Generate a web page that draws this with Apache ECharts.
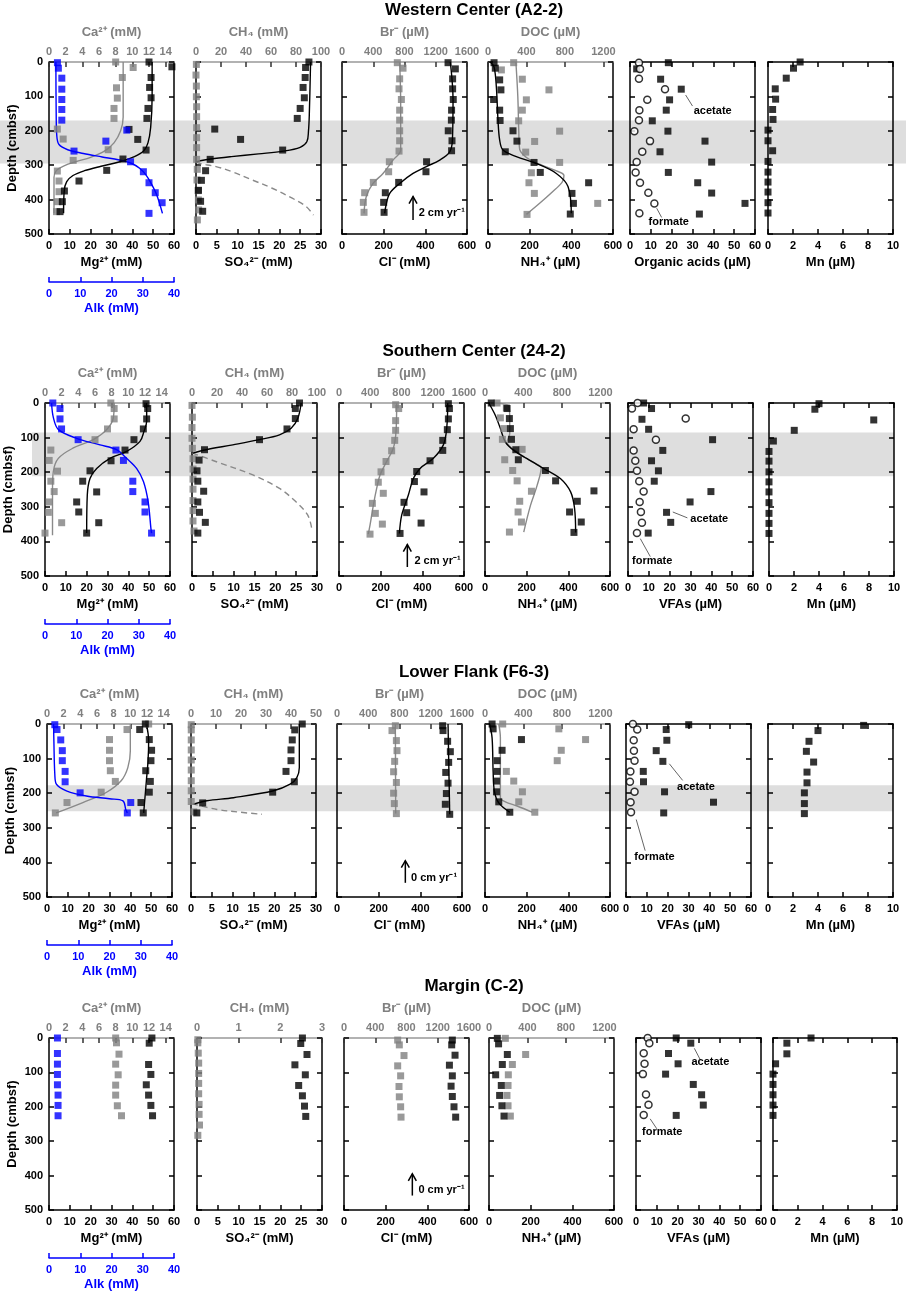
<!DOCTYPE html>
<html>
<head>
<meta charset="utf-8">
<script src="https://cdn.jsdelivr.net/npm/echarts@6/dist/echarts.min.js"></script>
<style>
  html, body { margin: 0; padding: 0; background: #fff; }
  #chart { width: 906px; height: 1293px; }
</style>
</head>
<body>
<div id="chart"></div>
<script>
// every point is [value, depth in cmbsf]

// ---- Western Center (A2-2) ----
var a2Mg = [[48,0],[59,14],[49,45],[48.3,74],[49,104],[47.5,135],[47,164],[38.4,196],[42.6,225],[46.6,256],[35.5,282],[27.7,315],[14.4,346],[7.4,375],[6.4,406],[5.3,435]];
var a2MgFit = [[49.5,0],[49.5,100],[48.8,190],[47.5,235],[45.5,258],[41,275],[34,290],[25,303],[17,316],[11.5,330],[8.5,348],[7.3,375],[7,440]];
var a2Ca = [[8.0,0],[10.1,16],[8.8,45],[8.1,75],[8.2,105],[7.8,135],[7.8,164],[1.0,195],[1.7,224],[7.1,255],[2.9,286],[1.0,317],[1.2,346],[1.2,377],[1.0,406],[0.9,435]];
var a2CaFit = [[8.9,0],[8.9,160],[8.6,200],[7.8,235],[6.6,260],[5.0,277],[3.2,290],[1.8,302],[0.9,315],[0.6,335],[0.6,440]];
var a2Alk = [[2.7,2],[3.0,18],[4.1,47],[4.1,79],[4.1,109],[4.1,138],[4.1,169],[24.9,198],[18.2,230],[8.0,259],[26.1,290],[30.2,319],[32,351],[34,380],[36.2,409],[32,440]];
var a2AlkFit = [[2.2,0],[2.3,150],[2.5,215],[3.2,240],[6,255],[11,266],[17,276],[22.5,285],[26.5,295],[29,309],[31,328],[32.5,350],[34.5,387],[36.3,440]];
var a2SO4 = [[27.1,0],[26.3,16],[26.2,45],[25.7,74],[26,104],[25,135],[24.3,164],[4.5,195],[10.7,225],[20.8,256],[3.4,283],[2.3,316],[1.3,344],[0.6,373],[1.1,405],[1.6,434]];
var a2SO4Fit = [[27.5,0],[27.2,150],[27,200],[26.6,232],[25,248],[21,259],[15,267],[8.5,275],[3.5,282],[1,287],[0,290]];
var a2CH4 = [[0.3,7],[0,38],[0.3,70],[0.3,101],[0.5,130],[0.5,159],[0.5,191],[0.5,220],[0.5,249],[0.5,283],[1,312],[0.8,343],[1.6,374],[1.9,401],[2.1,430],[1.1,459]];
var a2CH4Fit = [[0,290],[3,295],[16,304],[29,319],[45,343],[61,367],[77,396],[88,420],[94,445]];
var a2Cl = [[509,2],[544,20],[531,49],[531,78],[534,109],[526,140],[525,169],[510,200],[528,229],[526,258],[406,290],[403,319],[272,350],[208,380],[200,408],[202,437]];
var a2ClFit = [[520,0],[533,110],[530,227],[517,261],[469,285],[405,304],[341,324],[277,353],[229,382],[210,420],[205,440]];
var a2Br = [[708,2],[781,18],[738,49],[730,78],[760,109],[738,140],[738,169],[738,200],[738,229],[730,259],[606,290],[597,319],[401,350],[290,380],[273,408],[282,437]];
var a2BrFit = [[738,0],[751,120],[751,256],[653,285],[525,324],[397,353],[311,391],[282,440]];
var a2NH4 = [[29,2],[35,18],[56,52],[62,81],[27,109],[56,140],[58,170],[120,200],[139,230],[83,261],[221,292],[251,321],[483,351],[403,382],[410,411],[395,442]];
var a2NH4Fit = [[11,0],[29,14],[40,72],[48,169],[56,227],[72,256],[136,275],[232,295],[328,324],[384,362],[400,440]];
var a2DOC = [[267,2],[139,23],[357,50],[634,81],[399,110],[357,140],[319,171],[745,201],[485,231],[392,262],[745,292],[451,322],[426,351],[482,382],[1141,411],[406,443]];
var a2DOCFit = [[290,0],[310,100],[320,200],[330,255],[370,270],[440,285],[560,300],[700,315],[790,330],[770,350],[660,380],[540,410],[400,443]];
var a2Acetate = [[18.4,2],[3.2,20],[14.7,50],[24.6,79],[19,110],[17.4,140],[10.7,171],[18.2,201],[36,230],[14.4,261],[39.2,291],[18.4,321],[32.5,351],[39.2,381],[55.2,411],[33.3,442]];
var a2Formate = [[4.3,2],[4.8,20],[4.3,49],[16.8,79],[8.3,110],[4.5,140],[4.3,169],[2.1,201],[9.6,230],[5.9,261],[3.2,291],[2.7,321],[4.8,351],[8.8,380],[11.7,411],[4.5,440]];
var a2Mn = [[2.57,0],[2.04,18],[1.46,47],[0.58,78],[0.61,108],[0.37,138],[0.4,167],[0,198],[0,229],[0.37,258],[0,289],[0,320],[0,349],[0,378],[0,409],[0,439]];
var a2Band = [170, 295];

// ---- Southern Center (24-2) ----
var s24Mg = [[48.5,2],[49.3,16],[48.8,46],[47.2,75],[42.7,106],[38.4,136],[31.7,167],[21.6,196],[18.1,226],[24.8,257],[15.2,286],[16.2,315],[25.8,346],[20,376]];
var s24MgFit = [[48.8,0],[48.8,53],[47.5,82],[45.6,111],[39.2,140],[31.2,160],[24.8,189],[21.6,218],[20.3,266],[20,376]];
var s24Ca = [[7.9,0],[8.3,16],[8.3,46],[7.5,75],[6,106],[0.7,136],[0.5,166],[1.5,197],[0.7,226],[1.1,256],[0.5,286],[0.4,316],[2,346],[0,376]];
var s24CaFit = [[8.3,0],[8.2,43],[7.4,77],[5.8,106],[3.4,130],[1.6,160],[1,198],[0.9,247],[0.9,382]];
var s24Alk = [[2.5,0],[4.8,16],[4.8,46],[5.3,75],[10.6,106],[22.7,136],[25.1,166],[28.1,226],[28.1,256],[32,286],[32,315],[34.1,376]];
var s24AlkFit = [[2.1,0],[2.7,43],[4.3,77],[10.1,102],[17.6,121],[22.9,135],[26.1,160],[29.3,189],[31.5,227],[33,285],[33.9,363],[34.1,376]];
var s24SO4 = [[25.8,0],[24.8,16],[24.8,45],[22.8,75],[16.2,106],[3,135],[1.7,165],[1.2,196],[1.4,226],[2.8,255],[1.4,286],[1.8,316],[3.2,345],[1.4,376]];
var s24SO4Fit = [[26.2,0],[25.4,44],[23.8,73],[21,92],[16.2,106],[9.8,121],[3.4,135],[0.2,145]];
var s24CH4 = [[0,7],[0.3,41],[0,71],[0,102],[0.3,131],[0.8,161],[0.8,191],[0.8,220],[0.8,249],[0.8,282],[0.8,311],[0.8,341],[1.6,370]];
var s24CH4Fit = [[0.5,145],[19,169],[48.7,208],[70,247],[83,285],[92.6,324],[96,367]];
var s24Cl = [[525,2],[530,16],[525,46],[520,77],[498,108],[498,137],[437,167],[373,198],[362,227],[408,257],[312,287],[325,317],[394,347],[293,377]];
var s24ClFit = [[522,0],[517,73],[501,121],[453,160],[389,189],[357,218],[333,266],[301,324],[290,377]];
var s24Br = [[725,5],[764,16],[725,51],[725,79],[713,108],[674,138],[602,169],[538,199],[503,229],[567,261],[427,290],[465,319],[555,350],[397,379]];
var s24BrFit = [[738,0],[730,82],[695,131],[610,169],[525,208],[482,247],[440,295],[397,353],[375,379]];
var s24NH4 = [[30,0],[106,16],[117,45],[122,74],[127,105],[148,135],[160,164],[290,195],[339,225],[523,254],[443,284],[406,315],[462,344],[427,374]];
var s24NH4Fit = [[18,0],[50,36],[74,74],[98,113],[138,137],[202,161],[283,190],[363,219],[411,257],[430,305],[435,374]];
var s24DOC = [[125,0],[222,14],[160,43],[195,74],[181,105],[386,134],[205,164],[288,195],[334,225],[483,255],[361,284],[344,315],[379,344],[254,373]];
var s24DOCFit = [[56,0],[247,9],[257,45],[257,89],[229,113],[334,142],[490,170],[584,188],[542,238],[473,296],[403,373]];
var s24Acetate = [[7.5,0],[11.3,16],[6.7,47],[9.9,76],[40.6,106],[16.7,137],[11.3,167],[14.6,196],[12.6,226],[39.8,256],[29.8,286],[18.5,316],[20.5,345],[9.7,376]];
var s24Formate = [[4.6,0],[1.9,16],[27.7,45],[2.7,76],[13.4,106],[2.7,137],[3.5,167],[4.3,196],[5.4,226],[7.5,256],[5.6,286],[6.2,315],[6.7,346],[4.3,376]];
var s24Mn = [[4,2],[3.67,18],[8.38,49],[2.02,79],[0.35,110],[0,140],[0,168],[0,199],[0,228],[0,257],[0,288],[0,319],[0,348],[0,377]];
var s24Band = [85, 212];

// ---- Lower Flank (F6-3) ----
var f6Mg = [[47.2,0],[44.5,16],[49.1,45],[50.2,76],[49.9,106],[47.4,135],[49.6,166],[49.1,197],[45.1,227],[46.2,257]];
var f6MgFit = [[47.7,0],[48.8,48],[48.5,106],[47.7,164],[46.9,222],[46.4,257]];
var f6Ca = [[12.2,0],[9.6,16],[7.5,45],[7.5,76],[7.5,106],[7.6,135],[8.2,166],[6.5,197],[2.4,227],[1.0,257]];
var f6CaFit = [[10,0],[10,77],[9.7,126],[8.9,164],[7.1,198],[4.3,227],[1.1,257]];
var f6Alk = [[2.5,2],[3.2,16],[4.4,46],[4.9,77],[4.9,106],[5.8,137],[5.8,167],[10.6,199],[26.8,227],[25.7,257]];
var f6AlkFit = [[2.1,0],[2.2,48],[2.5,145],[3,174],[6.2,193],[12.6,208],[20,216],[24.3,222],[25.2,247],[25.7,257]];
var f6SO4 = [[26.7,0],[24.9,17],[24.3,46],[24,75],[24,106],[22.8,137],[24.8,167],[19.6,197],[2.8,228],[1.4,257]];
var f6SO4Fit = [[26,0],[26,126],[25.4,155],[23.8,174],[19.8,193],[10.2,213],[3.8,222],[0.6,232]];
var f6CH4 = [[0.1,2],[0.1,17],[0.1,46],[0.1,75],[0.1,104],[0.1,133],[0.1,164],[0.1,193],[0.1,224],[1.1,254]];
var f6CH4Fit = [[0.4,230],[10.4,247],[19.7,255],[28.3,261]];
var f6Cl = [[507,5],[509,19],[531,50],[544,80],[536,111],[522,140],[533,171],[525,201],[520,232],[541,261]];
var f6ClFit = [[533,0],[541,261]];
var f6Br = [[747,5],[704,19],[760,48],[768,77],[738,108],[725,138],[760,169],[725,200],[734,230],[760,259]];
var f6BrFit = [[747,0],[751,259]];
var f6NH4 = [[34,0],[39,14],[175,45],[82,76],[58,106],[58,137],[55,165],[55,196],[66,225],[119,255]];
var f6NH4Fit = [[22,0],[34,40],[39,137],[45,194],[66,228],[119,255]];
var f6DOC = [[184,0],[768,14],[1046,45],[793,76],[751,106],[222,137],[299,165],[389,196],[351,225],[518,255]];
var f6DOCFit = [[143,0],[160,40],[160,213],[212,225],[334,237],[490,255]];
var f6Acetate = [[30.1,2],[19.3,16],[19.6,47],[14.5,77],[17.7,108],[8.3,137],[8.4,167],[18.5,196],[42,226],[18.1,257]];
var f6Formate = [[3.3,0],[5.4,16],[3.7,47],[3.8,77],[4.1,106],[2.1,137],[1.9,167],[4.1,196],[2.2,226],[2.4,255]];
var f6Mn = [[7.65,4],[4.0,19],[3.28,50],[3.07,79],[3.65,110],[3.12,139],[3.12,170],[2.91,199],[2.91,230],[2.91,259]];
var f6Band = [177, 252];

// ---- Margin (C-2) ----
var c2Mg = [[49.4,0],[48.1,15],[47.8,77],[48.9,106],[46.7,136],[47.8,166],[48.9,196],[49.7,226]];
var c2Ca = [[8.0,0],[8.1,14],[8.4,47],[8.0,76],[8.3,107],[8.0,137],[8.0,166],[8.2,197],[8.7,226]];
var c2Alk = [[2.7,0],[2.7,45],[2.7,76],[2.7,106],[2.7,136],[2.9,166],[2.9,196],[2.9,226]];
var c2SO4 = [[25.3,0],[24.9,16],[26.4,48],[23.5,78],[26,107],[24.4,138],[25.3,168],[25.8,198],[26.1,228]];
var c2CH4 = [[0.02,5],[0.02,14],[0.03,44],[0.04,73],[0.04,103],[0.04,132],[0.04,162],[0.05,193],[0.05,222],[0.06,253],[0.02,283]];
var c2Cl = [[520,6],[517,20],[533,50],[506,79],[520,110],[514,140],[520,170],[528,200],[536,230]];
var c2Br = [[687,6],[708,20],[768,51],[687,81],[725,110],[704,141],[708,171],[725,200],[730,230]];
var c2NH4 = [[40,1],[46,17],[88,48],[64,77],[32,107],[59,138],[51,167],[62,197],[72,227]];
var c2DOC = [[170,1],[381,48],[243,77],[201,107],[198,138],[187,167],[198,197],[222,227]];
var c2Acetate = [[19.3,0],[26.3,15],[15.6,45],[20.2,75],[14.2,105],[27.5,135],[31.5,165],[32.3,195],[19.3,225]];
var c2Formate = [[5.6,0],[6.4,15],[3.7,44],[4.1,75],[3.3,105],[4.8,164],[6.0,194],[3.7,224]];
var c2Mn = [[3.07,0],[1.12,15],[1.12,46],[0.21,75],[0,105],[0,135],[0,165],[0,195],[0,225]];

// tick ranges [max, interval]
var depthTicks = [0, 100, 200, 300, 400, 500];
var mgTicks = [60, 10], caTicks = [15, 2], alkTicks = [40, 10];
var so4Ticks = [30, 5], clTicks = [600, 200], brTicks = [1600, 400];
var nh4Ticks = [600, 200], docTicks = [1300, 400], acidTicks = [60, 10], mnTicks = [10, 2];

var FONT = '"Liberation Sans", Arial, sans-serif';
var GRAY = '#808080';
var BLUE = '#0000ff';
var W = 125;

var rows = [
  { title: 'Western Center (A2-2)', top: 62, height: 172, lefts: [49, 196, 342, 488, 630, 768],
    ch4Ticks: [100, 20], acidName: 'Organic acids (µM)', band: a2Band, bandX: [0, 906],
    mg: a2Mg, mgFit: a2MgFit, ca: a2Ca, caFit: a2CaFit, alk: a2Alk, alkFit: a2AlkFit,
    so4: a2SO4, so4Fit: a2SO4Fit, ch4: a2CH4, ch4Fit: a2CH4Fit,
    cl: a2Cl, clFit: a2ClFit, br: a2Br, brFit: a2BrFit,
    nh4: a2NH4, nh4Fit: a2NH4Fit, doc: a2DOC, docFit: a2DOCFit,
    acetate: a2Acetate, formate: a2Formate, mn: a2Mn,
    rate: '2 cm yr⁻¹', arrow: [341, 459, 391, 368, 440],
    acetNote: [39.7, 142, 26.7, 96, 30, 128], formNote: [18.6, 466, 12.8, 425, 15.2, 452] },
  { title: 'Southern Center (24-2)', top: 403, height: 173, lefts: [45, 192, 339, 485, 628, 769],
    ch4Ticks: [100, 20], acidName: 'VFAs (µM)', band: s24Band, bandX: [32, 894],
    mg: s24Mg, mgFit: s24MgFit, ca: s24Ca, caFit: s24CaFit, alk: s24Alk, alkFit: s24AlkFit,
    so4: s24SO4, so4Fit: s24SO4Fit, ch4: s24CH4, ch4Fit: s24CH4Fit,
    cl: s24Cl, clFit: s24ClFit, br: s24Br, brFit: s24BrFit,
    nh4: s24NH4, nh4Fit: s24NH4Fit, doc: s24DOC, docFit: s24DOCFit,
    acetate: s24Acetate, formate: s24Formate, mn: s24Mn,
    rate: '2 cm yr⁻¹', arrow: [328, 474, 409, 362, 457],
    acetNote: [39, 334, 21.5, 315, 28.5, 332], formNote: [11.6, 458, 5.9, 392, 10.7, 444] },
  { title: 'Lower Flank (F6-3)', top: 724, height: 173, lefts: [47, 191, 337, 485, 626, 768],
    ch4Ticks: [50, 10], acidName: 'VFAs (µM)', band: f6Band, bandX: [47, 893],
    mg: f6Mg, mgFit: f6MgFit, ca: f6Ca, caFit: f6CaFit, alk: f6Alk, alkFit: f6AlkFit,
    so4: f6SO4, so4Fit: f6SO4Fit, ch4: f6CH4, ch4Fit: f6CH4Fit,
    cl: f6Cl, clFit: f6ClFit, br: f6Br, brFit: f6BrFit,
    nh4: f6NH4, nh4Fit: f6NH4Fit, doc: f6DOC, docFit: f6DOCFit,
    acetate: f6Acetate, formate: f6Formate, mn: f6Mn,
    rate: '0 cm yr⁻¹', arrow: [328, 459, 395, 355, 445],
    acetNote: [33.6, 183, 20.8, 115, 27.2, 163], formNote: [13.7, 385, 4.9, 276, 9.2, 366] },
  { title: 'Margin (C-2)', top: 1038, height: 172, lefts: [49, 197, 344, 489, 636, 773],
    ch4Ticks: [3, 1], acidName: 'VFAs (µM)', band: null,
    mg: c2Mg, ca: c2Ca, alk: c2Alk, so4: c2SO4, ch4: c2CH4,
    cl: c2Cl, br: c2Br, nh4: c2NH4, doc: c2DOC,
    acetate: c2Acetate, formate: c2Formate, mn: c2Mn,
    rate: '0 cm yr⁻¹', arrow: [328, 458, 395, 357, 442],
    acetNote: [35.7, 71, 28, 30, 31, 65], formNote: [12.6, 272, 6.8, 235, 10, 264] }
];

var grids = [], xAxes = [], yAxes = [], series = [], panels = [];

function textStyle(color, size) {
  return { color: color, fontFamily: FONT, fontWeight: 'bold', fontSize: size };
}

function plain(v) { return String(v); }

function addX(grid, o) {
  xAxes.push({
    gridIndex: grid, type: 'value', position: o.pos, offset: o.offset || 0,
    min: 0, max: o.ticks[0], interval: o.ticks[1],
    name: o.name || '', nameLocation: 'middle', nameGap: o.nameGap || 22,
    nameTextStyle: textStyle(o.color, 13),
    axisLine: { onZero: false, lineStyle: { color: o.lineColor || o.color, width: 1.5 } },
    axisTick: { show: true, inside: true, length: 5, lineStyle: { color: o.tickColor || o.color, width: 1.5 } },
    axisLabel: Object.assign(textStyle(o.color, 11), {
      show: o.labels !== false, margin: o.margin || 5, formatter: plain,
      showMinLabel: true, showMaxLabel: !o.hideMax
    }),
    splitLine: { show: false }
  });
  return xAxes.length - 1;
}

function addY(grid, pos, first) {
  yAxes.push({
    gridIndex: grid, type: 'value', position: pos, inverse: true,
    min: depthTicks[0], max: depthTicks[depthTicks.length - 1], interval: depthTicks[1] - depthTicks[0],
    name: first ? 'Depth (cmbsf)' : '', nameLocation: 'middle', nameGap: 30, nameRotate: 90,
    nameTextStyle: textStyle('#000', 13),
    axisLine: { onZero: false, lineStyle: { color: '#000', width: 1.5 } },
    axisTick: { inside: true, length: 5, lineStyle: { color: '#000', width: 1.5 } },
    axisLabel: Object.assign(textStyle('#000', 11), { show: first, margin: 6, formatter: plain }),
    splitLine: { show: false }
  });
  return yAxes.length - 1;
}

function squares(data, xi, yi, color) {
  if (!data) return;
  series.push({ type: 'scatter', xAxisIndex: xi, yAxisIndex: yi, data: data,
    symbol: 'rect', symbolSize: 7, itemStyle: { color: color }, z: 4, silent: true });
}

function circles(data, xi, yi) {
  series.push({ type: 'scatter', xAxisIndex: xi, yAxisIndex: yi, data: data,
    symbol: 'circle', symbolSize: 7,
    itemStyle: { color: '#fff', borderColor: '#000', borderWidth: 1.5 }, z: 5, silent: true });
}

function fitLine(data, xi, yi, color, dashed) {
  if (!data) return;
  series.push({ type: 'line', xAxisIndex: xi, yAxisIndex: yi, data: data,
    showSymbol: false, smooth: 0.35, clip: true,
    lineStyle: { color: color, width: 1.4, type: dashed ? [6, 4] : 'solid' }, z: 3, silent: true });
}

rows.forEach(function (row) {
  var bottoms = [
    { name: 'Mg²⁺ (mM)', ticks: mgTicks },
    { name: 'SO₄²⁻ (mM)', ticks: so4Ticks },
    { name: 'Cl⁻ (mM)', ticks: clTicks },
    { name: 'NH₄⁺ (µM)', ticks: nh4Ticks },
    { name: row.acidName, ticks: acidTicks },
    { name: 'Mn (µM)', ticks: mnTicks }
  ];
  var tops = [
    { name: 'Ca²⁺ (mM)', ticks: caTicks, hideMax: true },
    { name: 'CH₄ (mM)', ticks: row.ch4Ticks },
    { name: 'Br⁻ (µM)', ticks: brTicks },
    { name: 'DOC (µM)', ticks: docTicks, hideMax: true },
    null, null
  ];
  row.lefts.forEach(function (left, p) {
    var g = grids.length;
    grids.push({ left: left, top: row.top, width: W, height: row.height, show: false });
    var ly = addY(g, 'left', p === 0);
    addY(g, 'right', false);
    var bx = addX(g, { pos: 'bottom', name: bottoms[p].name, ticks: bottoms[p].ticks,
      color: '#000', margin: 6, nameGap: 22 });
    var tx;
    if (tops[p]) {
      tx = addX(g, { pos: 'top', name: tops[p].name, ticks: tops[p].ticks, hideMax: tops[p].hideMax,
        color: GRAY, lineColor: '#999', tickColor: '#333', margin: 5, nameGap: 23 });
    } else {
      tx = addX(g, { pos: 'top', ticks: bottoms[p].ticks, color: '#000', labels: false });
    }
    panels.push({ bx: bx, ly: ly });

    if (p === 0) {
      var ax = addX(g, { pos: 'bottom', offset: 48, name: 'Alk (mM)', ticks: alkTicks,
        color: BLUE, margin: 6, nameGap: 20 });
      fitLine(row.caFit, tx, ly, '#8a8a8a');
      fitLine(row.mgFit, bx, ly, '#000');
      fitLine(row.alkFit, ax, ly, BLUE);
      squares(row.ca, tx, ly, GRAY);
      squares(row.mg, bx, ly, '#000');
      squares(row.alk, ax, ly, BLUE);
    } else if (p === 1) {
      fitLine(row.ch4Fit, tx, ly, '#8a8a8a', true);
      fitLine(row.so4Fit, bx, ly, '#000');
      squares(row.ch4, tx, ly, GRAY);
      squares(row.so4, bx, ly, '#000');
    } else if (p === 2) {
      fitLine(row.brFit, tx, ly, '#8a8a8a');
      fitLine(row.clFit, bx, ly, '#000');
      squares(row.br, tx, ly, GRAY);
      squares(row.cl, bx, ly, '#000');
    } else if (p === 3) {
      fitLine(row.docFit, tx, ly, '#8a8a8a');
      fitLine(row.nh4Fit, bx, ly, '#000');
      squares(row.doc, tx, ly, GRAY);
      squares(row.nh4, bx, ly, '#000');
    } else if (p === 4) {
      squares(row.acetate, bx, ly, '#000');
      circles(row.formate, bx, ly);
    } else {
      squares(row.mn, bx, ly, '#000');
    }
  });
});

var chart = echarts.init(document.getElementById('chart'));
chart.setOption({
  animation: false,
  backgroundColor: '#fff',
  grid: grids,
  xAxis: xAxes,
  yAxis: yAxes,
  series: series
});

// annotations placed through the panels' own scales
function px(panel, x, y) {
  var pn = panels[panel];
  return chart.convertToPixel({ xAxisIndex: pn.bx, yAxisIndex: pn.ly }, [x, y]);
}

var graphics = [];
function label(pt, text, align) {
  graphics.push({ type: 'text', x: pt[0], y: pt[1], z: 20, silent: true,
    style: { text: text, font: 'bold 11px ' + FONT, fill: '#000',
      align: align, verticalAlign: 'middle', textAlign: align, textVerticalAlign: 'middle' } });
}
function leader(panel, n, text) {
  var a = px(panel, n[2], n[3]), b = px(panel, n[4], n[5]);
  graphics.push({ type: 'line', z: 20, silent: true,
    shape: { x1: a[0], y1: a[1], x2: b[0], y2: b[1] }, style: { stroke: '#666', lineWidth: 1 } });
  label(px(panel, n[0], n[1]), text, 'center');
}

rows.forEach(function (row, r) {
  var base = r * 6;
  var top = px(base, 0, 0)[1];
  graphics.push({ type: 'text', x: 474, y: top - 52, z: 20, silent: true,
    style: { text: row.title, font: 'bold 17px ' + FONT, fill: '#000',
      align: 'center', verticalAlign: 'middle', textAlign: 'center', textVerticalAlign: 'middle' } });
  if (row.band) {
    var y1 = px(base, 0, row.band[0])[1];
    var y2 = px(base, 0, row.band[1])[1];
    graphics.push({ type: 'rect', z: -10, silent: true,
      shape: { x: row.bandX[0], y: y1, width: row.bandX[1] - row.bandX[0], height: y2 - y1 },
      style: { fill: '#dedede' } });
  }
  var arr = row.arrow;
  var a1 = px(base + 2, arr[0], arr[1]), a2 = px(base + 2, arr[0], arr[2]);
  graphics.push({ type: 'line', z: 20, silent: true,
    shape: { x1: a1[0], y1: a1[1], x2: a2[0], y2: a2[1] }, style: { stroke: '#000', lineWidth: 1.5 } });
  graphics.push({ type: 'polyline', z: 20, silent: true,
    shape: { points: [[a2[0] - 4, a2[1] + 7], [a2[0], a2[1]], [a2[0] + 4, a2[1] + 7]] },
    style: { stroke: '#000', lineWidth: 1.5, fill: null } });
  label(px(base + 2, arr[3], arr[4]), row.rate, 'left');
  leader(base + 4, row.acetNote, 'acetate');
  leader(base + 4, row.formNote, 'formate');
});

chart.setOption({ graphic: graphics });
</script>
</body>
</html>
